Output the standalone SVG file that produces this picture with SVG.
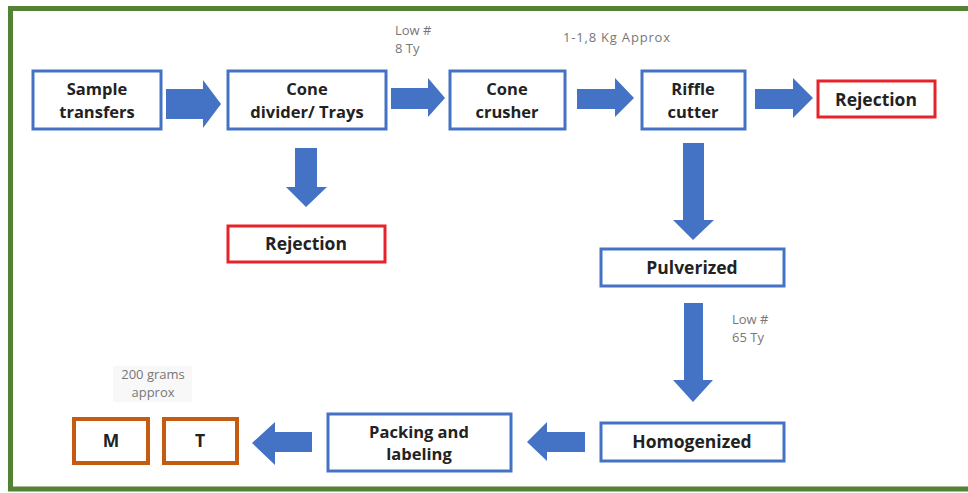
<svg xmlns="http://www.w3.org/2000/svg" width="968" height="493" viewBox="0 0 968 493">
<style>
.box{fill:#fff;stroke:#4472C4;stroke-width:3}
.rej{fill:#fff;stroke:#E8222A;stroke-width:3}
.org{fill:#fff;stroke:#C55A11;stroke-width:4}
.arr{fill:#4472C4}
.t{font-family:"Open Sans","Liberation Sans",sans-serif;font-weight:700;font-size:16.5px;fill:#222;text-anchor:middle}
.b{font-size:17.5px}
.s{font-family:"Open Sans","Liberation Sans",sans-serif;font-size:13px;fill:#777}
</style>
<rect width="968" height="493" fill="#fff"/>
<path d="M975 8.5 H10.5 V489 H975" fill="none" stroke="#548235" stroke-width="5"/>

<g id="connectors">
<polygon class="arr" points="166,89 203,89 203,80 221,104 203,128 203,119 166,119"/>
<polygon class="arr" points="391,88 428,88 428,78 445,98 428,117 428,109 391,109"/>
<polygon class="arr" points="577,89 615,89 615,78 634,98 615,117 615,109 577,109"/>
<polygon class="arr" points="755,89 793,89 793,78 813,98 793,118 793,109 755,109"/>
<polygon class="arr" points="295,148 317,148 317,187 327,187 306,207 286,187 295,187"/>
<polygon class="arr" points="683,143 704,143 704,220 714,220 693,240 673,220 683,220"/>
<polygon class="arr" points="684,303 703,303 703,380 713,380 693,402 673,380 684,380"/>
<polygon class="arr" points="585,432 547,432 547,422 527,442 547,461 547,452 585,452"/>
<polygon class="arr" points="312,432 275,432 275,422 252,443 275,465 275,452 312,452"/>
</g>

<g id="sample"><rect class="box" x="33" y="71" width="128" height="58"/><text class="t" x="97" y="95">Sample</text><text class="t" x="97" y="117.5">transfers</text></g>
<g id="cone-divider"><rect class="box" x="228" y="71" width="158" height="58"/><text class="t" x="307" y="95">Cone</text><text class="t" x="307" y="117.5">divider/ Trays</text></g>
<g id="cone-crusher"><rect class="box" x="450" y="71" width="115" height="58"/><text class="t" x="507" y="95">Cone</text><text class="t" x="507" y="117.5">crusher</text></g>
<g id="riffle"><rect class="box" x="642" y="71" width="103" height="58"/><text class="t" x="693" y="95">Riffle</text><text class="t" x="693" y="117.5">cutter</text></g>
<g id="rejection-right"><rect class="rej" x="818" y="81" width="117" height="36"/><text class="t b" x="876" y="106">Rejection</text></g>
<g id="rejection-left"><rect class="rej" x="228" y="226" width="157" height="36"/><text class="t b" x="306" y="250">Rejection</text></g>
<g id="pulverized"><rect class="box" x="601" y="249" width="183" height="37"/><text class="t b" x="692" y="274">Pulverized</text></g>
<g id="homogenized"><rect class="box" x="601" y="423" width="183" height="38"/><text class="t b" x="692" y="448">Homogenized</text></g>
<g id="packing"><rect class="box" x="328" y="414" width="183" height="57"/><text class="t" x="419" y="437.5">Packing and</text><text class="t" x="419" y="460">labeling</text></g>
<g id="m"><rect class="org" x="74" y="419" width="74" height="44"/><text class="t b" x="111" y="447">M</text></g>
<g id="t"><rect class="org" x="164" y="419" width="73" height="44"/><text class="t b" x="200" y="447">T</text></g>

<g id="labels">
<text class="s" x="395" y="35">Low #</text>
<text class="s" x="395" y="53">8 Ty</text>
<text class="s" x="563" y="42" textLength="107">1-1,8 Kg Approx</text>
<text class="s" x="732" y="324">Low #</text>
<text class="s" x="732" y="342">65 Ty</text>
<rect x="113" y="366" width="79" height="36" fill="#f8f8f8"/>
<text class="s" x="153" y="379" text-anchor="middle">200 grams</text>
<text class="s" x="153" y="397" text-anchor="middle">approx</text>
</g>
</svg>
